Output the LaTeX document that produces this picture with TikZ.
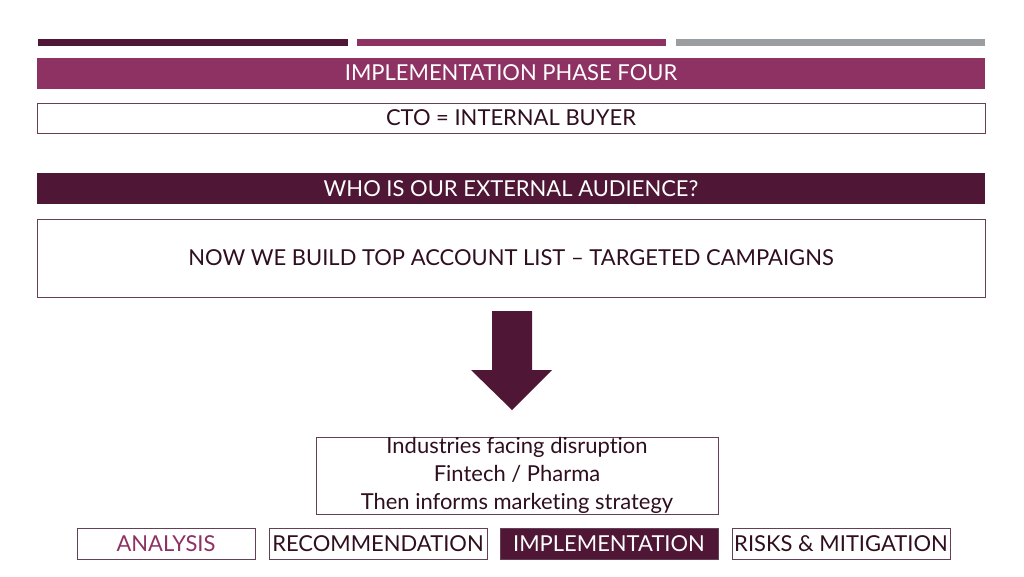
\documentclass[tikz,border=0pt]{standalone}
\usepackage{fontspec}
\setmainfont{Lato}[Ligatures=NoCommon]
\usetikzlibrary{positioning}
\definecolor{maroon}{HTML}{4F1735}
\definecolor{plum}{HTML}{8E3163}
\definecolor{steel}{HTML}{9A9EA1}

\begin{document}
\begin{tikzpicture}[
    x=0.02cm, y=-0.02cm,
    bar/.style={minimum height=0.14cm, inner sep=0pt},
    banner/.style={rectangle, minimum width=18.96cm, minimum height=0.62cm, inner sep=0pt, font=\fontsize{12.5}{15}\selectfont},
    textbox/.style={rectangle, draw=maroon!70!steel, fill=white, align=center, inner sep=0pt, font=\fontsize{12.5}{15}\selectfont, text=maroon!60!black},
    tab/.style={rectangle, draw=maroon!70!steel, minimum height=0.62cm, inner sep=0pt, font=\fontsize{12.5}{15}\selectfont}
]
\useasboundingbox (0,0) rectangle (1024,576);

% Top bars
\node[bar, fill=maroon, minimum width=6.2cm] (bar1) at (193,42) {};
\node[bar, fill=plum, minimum width=6.18cm] (bar2) at (511.5,42) {};
\node[bar, fill=steel, minimum width=6.18cm] (bar3) at (830.5,42) {};

% Headings
\node[banner, fill=plum, text=white] (phase) at (511,73) {IMPLEMENTATION PHASE FOUR};
\node[textbox, minimum width=18.96cm, minimum height=0.6cm] (buyer) at (511,118) {CTO = INTERNAL BUYER};
\node[banner, fill=maroon, text=white] (audience) at (511,188.5) {WHO IS OUR EXTERNAL AUDIENCE?};
\node[textbox, minimum width=18.96cm, minimum height=1.56cm] (accounts) at (511,258) {NOW WE BUILD TOP ACCOUNT LIST -- TARGETED CAMPAIGNS};

% Down arrow
\fill[maroon] (492,311) -- (532,311) -- (532,370) -- (552,370) -- (512,410)
    -- (471,370) -- (492,370) -- cycle;

% Detail box
\node[textbox, minimum width=8.04cm, minimum height=1.54cm] (detail) at (517,475.5)
    {Industries facing disruption\\[1pt] Fintech / Pharma\\[1pt] Then informs marketing strategy};

% Bottom tabs
\node[tab, minimum width=3.56cm, text=plum] (analysis) at (166,543.5) {ANALYSIS};
\node[tab, minimum width=4.36cm, text=maroon!60!black] (recommend) at (378,543.5) {RECOMMENDATION};
\node[tab, minimum width=4.36cm, fill=maroon, text=white] (implement) at (609,543.5) {IMPLEMENTATION};
\node[tab, minimum width=4.36cm, text=maroon!60!black] (risks) at (841,543.5) {RISKS \& MITIGATION};
\end{tikzpicture}
\end{document}
